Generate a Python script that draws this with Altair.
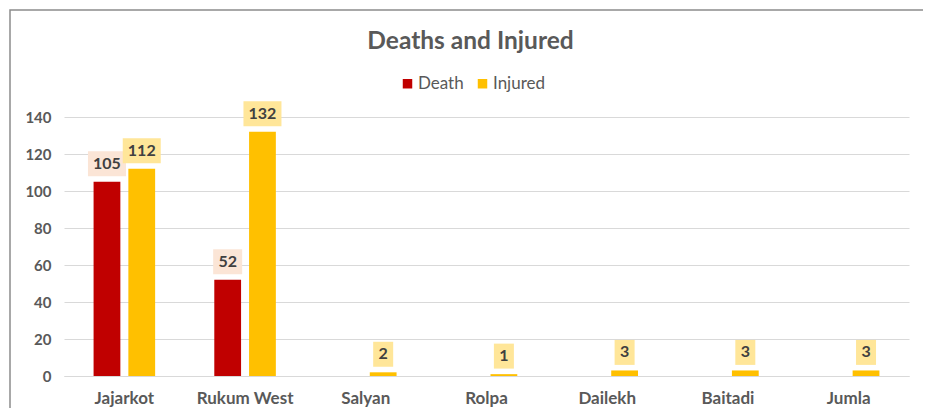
import altair as alt
import pandas as pd

categories = ["Jajarkot", "Rukum West", "Salyan", "Rolpa", "Dailekh", "Baitadi", "Jumla"]
death = [105, 52, 0, 0, 0, 0, 0]
injured = [112, 132, 2, 1, 3, 3, 3]
series = ["Death", "Injured"]
y_ticks = [0, 20, 40, 60, 80, 100, 120, 140]

rows = []
for c, d, i in zip(categories, death, injured):
    rows.append({"district": c, "series": "Death", "value": d})
    rows.append({"district": c, "series": "Injured", "value": i})
df = pd.DataFrame(rows)

FONT = "Lato"

x_axis = alt.Axis(title=None, labelAngle=0, labelFontSize=17, labelFontWeight="bold",
                  labelColor="#595959", labelFont=FONT, ticks=False, labelPadding=14,
                  domainColor="#d9d9d9", grid=False)
y_axis = alt.Axis(title=None, values=y_ticks, labelFontSize=15, labelFontWeight="bold",
                  labelColor="#595959", labelFont=FONT, ticks=False, domain=False,
                  labelPadding=13, gridColor="#d9d9d9", tickCount=8)
y_scale = alt.Scale(domain=[0, 140], nice=False)
x_scale = alt.Scale(paddingInner=0.49, paddingOuter=0.245)

x_enc = alt.X("district:N", sort=categories, scale=x_scale, axis=x_axis)
xo_enc = alt.XOffset("series:N", sort=series, scale=alt.Scale(paddingInner=0.23, paddingOuter=0))

base = alt.Chart(df)

bars = base.mark_bar().encode(
    x=x_enc,
    xOffset=xo_enc,
    y=alt.Y("value:Q", scale=y_scale, axis=y_axis),
    color=alt.Color("series:N", sort=series,
                    scale=alt.Scale(domain=series, range=["#C00000", "#FFC000"]),
                    legend=alt.Legend(title=None, orient="none", direction="horizontal",
                                      legendX=335, legendY=-42, symbolType="square",
                                      symbolSize=90, labelFontSize=17, labelFont=FONT,
                                      labelColor="#595959", columnPadding=10, labelOffset=2,
                                      symbolStrokeWidth=0)),
)

lab = base.transform_filter("datum.value > 0").transform_calculate(
    lo="datum.value + 3",
    hi="datum.value + 16.5",
    mid="datum.value + 9.75",
    w="11 + 9 * length(toString(datum.value))",
)

boxes = lab.mark_bar().encode(
    x=x_enc,
    xOffset=xo_enc,
    y=alt.Y("lo:Q", scale=y_scale, axis=y_axis),
    y2="hi:Q",
    size=alt.Size("w:Q", scale=None, legend=None),
    color=alt.condition("datum.series == 'Death'", alt.value("#FBE5D6"), alt.value("#FFE699")),
)

texts = lab.mark_text(font=FONT, fontSize=16, fontWeight="bold", color="#404040",
                      baseline="middle").encode(
    x=x_enc,
    xOffset=xo_enc,
    y=alt.Y("mid:Q", scale=y_scale, axis=y_axis),
    text=alt.Text("value:Q"),
)

frame = alt.Chart(pd.DataFrame({"f": [0]})).mark_rect(
    fillOpacity=0, stroke="#8c8c8c", strokeWidth=1.5
).encode(x=alt.value(-54), x2=alt.value(864), y=alt.value(-107), y2=alt.value(330))

chart = alt.layer(frame, bars, boxes, texts).properties(
    width=845, height=259,
    title=alt.TitleParams("Deaths and Injured", fontSize=24.5, font=FONT, fontWeight="bold",
                          color="#595959", dx=-16, offset=-45),
    autosize=alt.AutoSizeParams(type="none"),
    padding={"left": 56, "top": 109, "right": 14, "bottom": 32},
).configure_view(stroke=None)

chart.save("out.html", embed_options={"renderer": "svg", "actions": False})
